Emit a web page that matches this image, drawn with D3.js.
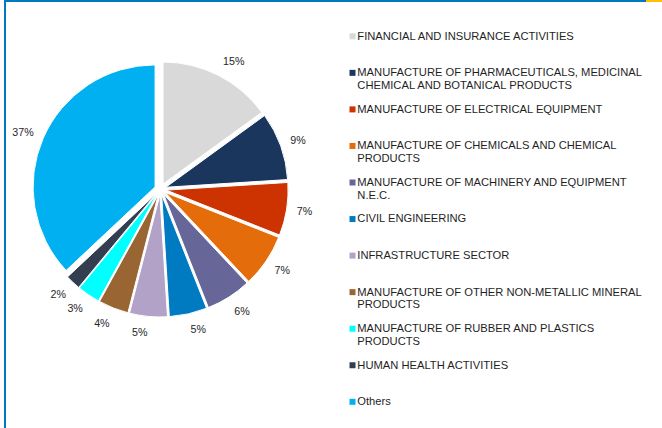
<!DOCTYPE html>
<html>
<head>
<meta charset="utf-8">
<script src="https://cdn.jsdelivr.net/npm/d3@7"></script>
<style>
  html, body { margin: 0; padding: 0; background: #fff; }
  svg { display: block; }
</style>
</head>
<body>
<svg id="chart" width="662" height="428"></svg>
<script>
const categories = [
  "FINANCIAL AND INSURANCE ACTIVITIES",
  "MANUFACTURE OF PHARMACEUTICALS, MEDICINAL CHEMICAL AND BOTANICAL PRODUCTS",
  "MANUFACTURE OF ELECTRICAL EQUIPMENT",
  "MANUFACTURE OF CHEMICALS AND CHEMICAL PRODUCTS",
  "MANUFACTURE OF MACHINERY AND EQUIPMENT N.E.C.",
  "CIVIL ENGINEERING",
  "INFRASTRUCTURE SECTOR",
  "MANUFACTURE OF OTHER NON-METALLIC MINERAL PRODUCTS",
  "MANUFACTURE OF RUBBER AND PLASTICS PRODUCTS",
  "HUMAN HEALTH ACTIVITIES",
  "Others"
];
const shares = [15, 9, 7, 7, 6, 5, 5, 4, 3, 2, 37];
const colors = ["#D9D9D9", "#1A365D", "#CC3300", "#E46C0A", "#666699", "#007BC2",
                "#B3A2C7", "#996633", "#00FFFF", "#333F50", "#00B0F0"];

const svg = d3.select("#chart");
const W = 662, H = 428;
const FONT = "'Liberation Sans', Arial, sans-serif";

// frame
svg.append("rect").attr("x", 4).attr("y", 0).attr("width", 642).attr("height", 2).attr("fill", "#0079C1");
svg.append("rect").attr("x", 646).attr("y", 0).attr("width", 16).attr("height", 2).attr("fill", "#FFC000");
svg.append("rect").attr("x", 4).attr("y", 0).attr("width", 2).attr("height", H).attr("fill", "#0079C1");

const cx = 160.4, cy = 189.2, R = 122, explode = 5.8, labelR = 138, labelH = 12;
const data = categories.map((c, i) => ({ name: c, value: shares[i], color: colors[i] }));

const pie = d3.pie().sort(null).value(d => d.value).startAngle(0).endAngle(2 * Math.PI);
const arcs = pie(data);
const arc = d3.arc().innerRadius(0).outerRadius(R);
const mid = d => (d.startAngle + d.endAngle) / 2;

const g = svg.append("g").attr("transform", `translate(${cx},${cy})`);
g.selectAll("path.slice").data(arcs).enter().append("path")
  .attr("class", "slice")
  .attr("d", arc)
  .attr("fill", d => d.data.color)
  .attr("stroke", "#fff")
  .attr("stroke-width", 1)
  .attr("transform", d => `translate(${explode * Math.sin(mid(d))},${-explode * Math.cos(mid(d))})`);

g.selectAll("text.lbl").data(arcs).enter().append("text")
  .attr("class", "lbl")
  .attr("text-anchor", "middle")
  .attr("dy", "0.35em")
  .attr("font-family", FONT)
  .attr("font-size", 10.7)
  .attr("fill", "#262626")
  .text(d => d.data.value + "%")
  .each(function(d) {
    const a = mid(d), s = Math.sin(a), c = Math.cos(a);
    const w = this.getComputedTextLength();
    const x = labelR * s + Math.sign(s) * w / 2;
    const y = -c * (labelR + labelH / 2);
    d3.select(this).attr("x", x).attr("y", y);
  });

// legend
const legX = 349.5, textX = 357.3, legY0 = 35.8, legStep = 36.55, lineH = 12.7, maxW = 292;
const legend = svg.append("g");
data.forEach((d, i) => {
  const y = legY0 + i * legStep;
  legend.append("rect").attr("x", legX).attr("y", y - 2.5).attr("width", 6).attr("height", 6).attr("fill", d.color);
  const t = legend.append("text")
    .attr("font-family", FONT)
    .attr("font-size", 11.2)
    .attr("fill", "#1F1F1F");
  const words = d.name.split(" ");
  let line = [], lineNo = 0;
  let ts = t.append("tspan").attr("x", textX).attr("y", y).attr("dy", "0.35em");
  words.forEach(w => {
    line.push(w);
    ts.text(line.join(" "));
    if (ts.node().getComputedTextLength() > maxW && line.length > 1) {
      line.pop();
      ts.text(line.join(" "));
      line = [w];
      lineNo++;
      ts = t.append("tspan").attr("x", textX).attr("y", y + lineNo * lineH).attr("dy", "0.35em").text(w);
    }
  });
});
</script>
</body>
</html>
